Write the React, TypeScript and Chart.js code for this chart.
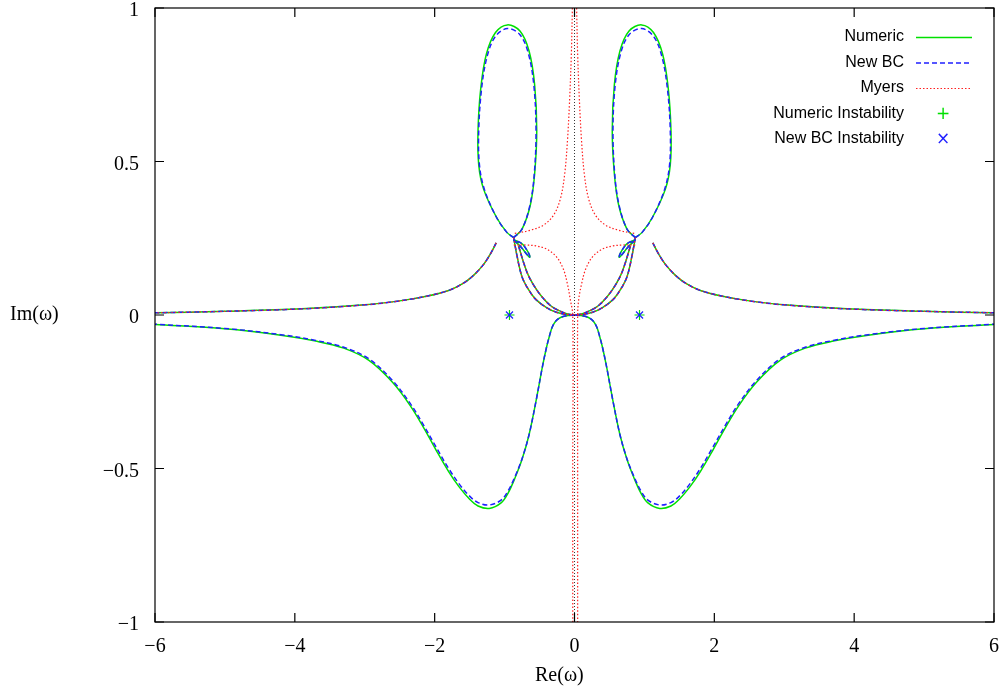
import { useEffect, useRef } from "react";
import { Chart, registerables, type ChartConfiguration } from "chart.js";

Chart.register(...registerables);

type P = [number, number];

const X_TICKS = [-6, -4, -2, 0, 2, 4, 6];
const Y_TICKS = [-1, -0.5, 0, 0.5, 1];

// upper loops (Numeric / New BC)
const LOOP_R_NUM: P[] = [[0.87, 0.252], [0.75, 0.28], [0.63, 0.36], [0.57, 0.46], [0.54, 0.6], [0.57, 0.75], [0.65, 0.86], [0.78, 0.925], [0.96, 0.945], [1.13, 0.92], [1.26, 0.85], [1.34, 0.74], [1.38, 0.6], [1.37, 0.49], [1.3, 0.41], [1.12, 0.32], [0.97, 0.27], [0.87, 0.252]];
const LOOP_R_BC: P[] = [[0.87, 0.252], [0.75, 0.28], [0.635, 0.36], [0.575, 0.46], [0.55, 0.6], [0.58, 0.745], [0.66, 0.852], [0.78, 0.913], [0.96, 0.933], [1.13, 0.908], [1.25, 0.842], [1.33, 0.735], [1.37, 0.6], [1.36, 0.49], [1.29, 0.41], [1.12, 0.32], [0.97, 0.27], [0.87, 0.252]];
const LOOP_L_NUM: P[] = [[-0.87, 0.252], [-0.75, 0.28], [-0.63, 0.36], [-0.57, 0.46], [-0.54, 0.6], [-0.57, 0.75], [-0.65, 0.86], [-0.78, 0.925], [-0.96, 0.945], [-1.13, 0.92], [-1.26, 0.85], [-1.34, 0.74], [-1.38, 0.6], [-1.37, 0.49], [-1.3, 0.41], [-1.12, 0.32], [-0.97, 0.27], [-0.87, 0.252]];
const LOOP_L_BC: P[] = [[-0.87, 0.252], [-0.75, 0.28], [-0.635, 0.36], [-0.575, 0.46], [-0.55, 0.6], [-0.58, 0.745], [-0.66, 0.852], [-0.78, 0.913], [-0.96, 0.933], [-1.13, 0.908], [-1.25, 0.842], [-1.33, 0.735], [-1.37, 0.6], [-1.36, 0.49], [-1.29, 0.41], [-1.12, 0.32], [-0.97, 0.27], [-0.87, 0.252]];

// small loops near the nodes
const SMALL_R: P[] = [[0.87, 0.245], [0.76, 0.22], [0.68, 0.197], [0.64, 0.188], [0.66, 0.203], [0.75, 0.232], [0.87, 0.245]];
const SMALL_L: P[] = [[-0.87, 0.245], [-0.76, 0.22], [-0.68, 0.197], [-0.64, 0.188], [-0.66, 0.203], [-0.75, 0.232], [-0.87, 0.245]];

// U shaped strands down to the origin
const U_OUT_R: P[] = [[0.87, 0.252], [0.82, 0.19], [0.75, 0.124], [0.65, 0.08], [0.55, 0.05], [0.4, 0.024], [0.26, 0.009], [0.1, 0.001], [0, 0]];
const U_IN_R: P[] = [[0.8, 0.225], [0.72, 0.165], [0.65, 0.124], [0.55, 0.085], [0.46, 0.058], [0.34, 0.03], [0.22, 0.014], [0.1, 0.003], [0, 0]];
const U_OUT_L: P[] = [[-0.87, 0.252], [-0.82, 0.19], [-0.75, 0.124], [-0.65, 0.08], [-0.55, 0.05], [-0.4, 0.024], [-0.26, 0.009], [-0.1, 0.001], [0, 0]];
const U_IN_L: P[] = [[-0.8, 0.225], [-0.72, 0.165], [-0.65, 0.124], [-0.55, 0.085], [-0.46, 0.058], [-0.34, 0.03], [-0.22, 0.014], [-0.1, 0.003], [0, 0]];

// side branches
const SIDE_R: P[] = [[1.12, 0.235], [1.2, 0.2], [1.3, 0.165], [1.44, 0.13], [1.6, 0.102], [1.8, 0.08], [2.1, 0.062], [2.5, 0.046], [3, 0.033], [3.9, 0.02], [5, 0.012], [6, 0.007]];
const SIDE_L: P[] = [[-1.12, 0.235], [-1.2, 0.2], [-1.3, 0.165], [-1.44, 0.13], [-1.6, 0.102], [-1.8, 0.08], [-2.1, 0.062], [-2.5, 0.046], [-3, 0.033], [-3.9, 0.02], [-5, 0.012], [-6, 0.007]];

// lower branches
const LOW_R_NUM: P[] = [[0, 0], [0.1, -0.002], [0.2, -0.008], [0.27, -0.02], [0.32, -0.04], [0.36, -0.07], [0.4, -0.105], [0.46, -0.17], [0.55, -0.28], [0.65, -0.39], [0.75, -0.47], [0.85, -0.53], [0.95, -0.58], [1.05, -0.612], [1.22, -0.63], [1.38, -0.622], [1.5, -0.6], [1.65, -0.56], [1.8, -0.51], [1.98, -0.44], [2.15, -0.37], [2.35, -0.295], [2.6, -0.22], [2.94, -0.148], [3.3, -0.108], [3.7, -0.085], [4.2, -0.066], [5, -0.045], [6, -0.031]];
const LOW_R_BC: P[] = [[0, 0], [0.1, -0.002], [0.2, -0.008], [0.27, -0.02], [0.32, -0.04], [0.36, -0.07], [0.4, -0.105], [0.46, -0.17], [0.55, -0.28], [0.65, -0.39], [0.75, -0.468], [0.85, -0.526], [0.95, -0.573], [1.05, -0.603], [1.22, -0.619], [1.38, -0.611], [1.5, -0.59], [1.65, -0.55], [1.8, -0.5], [1.98, -0.43], [2.15, -0.362], [2.35, -0.288], [2.6, -0.214], [2.94, -0.143], [3.3, -0.105], [3.7, -0.083], [4.2, -0.064], [5, -0.044], [6, -0.03]];
const LOW_L_NUM: P[] = [[0, 0], [-0.1, -0.002], [-0.2, -0.008], [-0.27, -0.02], [-0.32, -0.04], [-0.36, -0.07], [-0.4, -0.105], [-0.46, -0.17], [-0.55, -0.28], [-0.65, -0.39], [-0.75, -0.47], [-0.85, -0.53], [-0.95, -0.58], [-1.05, -0.612], [-1.22, -0.63], [-1.38, -0.622], [-1.5, -0.6], [-1.65, -0.56], [-1.8, -0.51], [-1.98, -0.44], [-2.15, -0.37], [-2.35, -0.295], [-2.6, -0.22], [-2.94, -0.148], [-3.3, -0.108], [-3.7, -0.085], [-4.2, -0.066], [-5, -0.045], [-6, -0.031]];
const LOW_L_BC: P[] = [[0, 0], [-0.1, -0.002], [-0.2, -0.008], [-0.27, -0.02], [-0.32, -0.04], [-0.36, -0.07], [-0.4, -0.105], [-0.46, -0.17], [-0.55, -0.28], [-0.65, -0.39], [-0.75, -0.468], [-0.85, -0.526], [-0.95, -0.573], [-1.05, -0.603], [-1.22, -0.619], [-1.38, -0.611], [-1.5, -0.59], [-1.65, -0.55], [-1.8, -0.5], [-1.98, -0.43], [-2.15, -0.362], [-2.35, -0.288], [-2.6, -0.214], [-2.94, -0.143], [-3.3, -0.105], [-3.7, -0.083], [-4.2, -0.064], [-5, -0.044], [-6, -0.03]];

// Myers-only arms
const MYERS_UP_R: P[] = [[0.03, 1], [0.045, 0.85], [0.07, 0.7], [0.1, 0.57], [0.14, 0.46], [0.2, 0.38], [0.3, 0.325], [0.45, 0.292], [0.65, 0.275], [0.87, 0.265]];
const MYERS_LO_R: P[] = [[0.87, 0.228], [0.7, 0.228], [0.55, 0.225], [0.4, 0.215], [0.26, 0.19], [0.16, 0.15], [0.1, 0.1], [0.06, 0.05], [0.045, 0], [0.045, -0.5], [0.045, -1]];
const MYERS_UP_L: P[] = [[-0.03, 1], [-0.045, 0.85], [-0.07, 0.7], [-0.1, 0.57], [-0.14, 0.46], [-0.2, 0.38], [-0.3, 0.325], [-0.45, 0.292], [-0.65, 0.275], [-0.87, 0.265]];
const MYERS_LO_L: P[] = [[-0.87, 0.228], [-0.7, 0.228], [-0.55, 0.225], [-0.4, 0.215], [-0.26, 0.19], [-0.16, 0.15], [-0.1, 0.1], [-0.06, 0.05], [-0.025, 0], [-0.025, -0.5], [-0.025, -1]];

const NUM_INSTAB: P[] = [[-0.93, 0], [0.93, 0]];
const BC_INSTAB: P[] = [[-0.93, 0], [0.93, 0]];
const ZERO_AXIS: P[] = [[0, -1], [0, 1]];

const GREEN = "#00e000";
const BLUE = "#1f1fff";
const RED = "#ff2020";
const DASH = [5, 3];
const DOT = [1.5, 2];
const SERIF = "'Liberation Serif'";

const pts = (a: P[]) => a.map(([x, y]) => ({ x, y }));

function line(data: P[], color: string, dash: number[], width = 1.5) {
  return { data: pts(data), showLine: true, borderColor: color, borderWidth: width, borderDash: dash, pointRadius: 0, tension: 0.35, fill: false, clip: false };
}

const fmt = (v: number) => String(v).replace("-", "\u2212");

// gnuplot-style frame: border and inward ticks on all sides
const frame = {
  id: "frame",
  afterDraw(chart: Chart) {
    const { ctx, chartArea: a, scales } = chart;
    ctx.save();
    ctx.strokeStyle = "#000";
    ctx.lineWidth = 1.2;
    ctx.strokeRect(a.left, a.top, a.right - a.left, a.bottom - a.top);
    ctx.beginPath();
    for (const v of X_TICKS) {
      const px = scales.x.getPixelForValue(v);
      ctx.moveTo(px, a.bottom); ctx.lineTo(px, a.bottom - 9);
      ctx.moveTo(px, a.top); ctx.lineTo(px, a.top + 9);
    }
    for (const v of Y_TICKS) {
      const py = scales.y.getPixelForValue(v);
      ctx.moveTo(a.left, py); ctx.lineTo(a.left + 9, py);
      ctx.moveTo(a.right, py); ctx.lineTo(a.right - 9, py);
    }
    ctx.stroke();
    ctx.restore();
  },
};

// plot box in page pixels (matches layout padding below)
const LEFT = 155, RIGHT = 994, TOP = 8, BOTTOM = 622;
const xPx = (v: number) => LEFT + ((v + 6) / 12) * (RIGHT - LEFT);
const yPx = (v: number) => BOTTOM - ((v + 1) / 2) * (BOTTOM - TOP);

const LEGEND = [
  { label: "Numeric", kind: "solid", color: GREEN },
  { label: "New BC", kind: "dashed", color: BLUE },
  { label: "Myers", kind: "dotted", color: RED },
  { label: "Numeric Instability", kind: "+", color: GREEN },
  { label: "New BC Instability", kind: "\u00d7", color: BLUE },
];

export default function App() {
  const ref = useRef<HTMLCanvasElement>(null);

  useEffect(() => {
    if (!ref.current) return;
    // first dataset is drawn on top in Chart.js, so list them top-most first
    const datasets = [
      { data: pts(BC_INSTAB), pointStyle: "crossRot", pointRadius: 5, borderColor: BLUE, borderWidth: 1.2, backgroundColor: BLUE, clip: false },
      { data: pts(NUM_INSTAB), pointStyle: "cross", pointRadius: 5, borderColor: GREEN, borderWidth: 1.2, backgroundColor: GREEN, clip: false },
      { ...line(ZERO_AXIS, "#000", [1, 2], 0.8), tension: 0 },
      line(U_OUT_R, RED, DOT, 1.2), line(U_IN_R, RED, DOT, 1.2), line(U_OUT_L, RED, DOT, 1.2), line(U_IN_L, RED, DOT, 1.2),
      line(SIDE_R, RED, DOT, 1.2), line(SIDE_L, RED, DOT, 1.2),
      line(MYERS_UP_R, RED, DOT, 1.2), line(MYERS_LO_R, RED, DOT, 1.2),
      line(MYERS_UP_L, RED, DOT, 1.2), line(MYERS_LO_L, RED, DOT, 1.2),
      line(LOOP_R_BC, BLUE, DASH), line(LOOP_L_BC, BLUE, DASH),
      line(SMALL_R, BLUE, DASH), line(SMALL_L, BLUE, DASH),
      line(U_OUT_R, BLUE, DASH), line(U_IN_R, BLUE, DASH), line(U_OUT_L, BLUE, DASH), line(U_IN_L, BLUE, DASH),
      line(SIDE_R, BLUE, DASH), line(SIDE_L, BLUE, DASH),
      line(LOW_R_BC, BLUE, DASH), line(LOW_L_BC, BLUE, DASH),
      line(LOOP_R_NUM, GREEN, []), line(LOOP_L_NUM, GREEN, []),
      line(SMALL_R, GREEN, []), line(SMALL_L, GREEN, []),
      line(U_OUT_R, GREEN, []), line(U_IN_R, GREEN, []), line(U_OUT_L, GREEN, []), line(U_IN_L, GREEN, []),
      line(SIDE_R, GREEN, []), line(SIDE_L, GREEN, []),
      line(LOW_R_NUM, GREEN, []), line(LOW_L_NUM, GREEN, []),
    ];
    const config: ChartConfiguration<"scatter"> = {
      type: "scatter",
      data: { datasets: datasets as any },
      options: {
        animation: false,
        responsive: false,
        devicePixelRatio: 1,
        layout: { padding: { top: TOP, right: 1002 - RIGHT, left: LEFT, bottom: 694 - BOTTOM } },
        plugins: { legend: { display: false }, tooltip: { enabled: false } },
        scales: {
          x: { type: "linear", min: -6, max: 6, display: false },
          y: { type: "linear", min: -1, max: 1, display: false },
        },
      },
      plugins: [frame],
    };
    const chart = new Chart(ref.current, config);
    return () => chart.destroy();
  }, []);

  const tick: React.CSSProperties = { position: "absolute", fontFamily: SERIF, fontSize: 20, lineHeight: "20px", whiteSpace: "nowrap" };

  return (
    <div style={{ position: "fixed", left: 0, top: 0, width: 1002, height: 694, background: "#fff" }}>
      <canvas ref={ref} width={1002} height={694} style={{ position: "absolute", left: 0, top: 0, width: 1002, height: 694 }} />
      {X_TICKS.map((v) => (
        <div key={"x" + v} style={{ ...tick, left: xPx(v) - 30, width: 60, textAlign: "center", top: BOTTOM + 13 }}>{fmt(v)}</div>
      ))}
      {Y_TICKS.map((v) => (
        <div key={"y" + v} style={{ ...tick, right: 1002 - LEFT + 16, top: yPx(v) - 9 }}>{fmt(v)}</div>
      ))}
      <div style={{ ...tick, left: 10, top: 303 }}>Im(ω)</div>
      <div style={{ ...tick, left: 535, top: 664 }}>Re(ω)</div>
      {LEGEND.map((l, i) => (
        <div key={l.label} style={{ position: "absolute", right: 1002 - 904, top: 27 + i * 25.5, fontFamily: "Liberation Sans", fontSize: 16, whiteSpace: "nowrap" }}>{l.label}</div>
      ))}
      <svg width={1002} height={694} style={{ position: "absolute", left: 0, top: 0 }}>
        {LEGEND.map((l, i) =>
          l.kind.length > 1 ? (
            <line key={l.label} x1={916} x2={972} y1={37.5 + i * 25.5} y2={37.5 + i * 25.5} stroke={l.color} strokeWidth={l.kind === "dotted" ? 1.2 : 1.5}
              strokeDasharray={l.kind === "dashed" ? "5 3" : l.kind === "dotted" ? "1.5 2" : undefined} />
          ) : null
        )}
      </svg>
      {LEGEND.map((l, i) =>
        l.kind.length === 1 ? (
          <div key={"s" + l.label} style={{ position: "absolute", left: 936, top: 26 + i * 25.5, color: l.color, fontFamily: "DejaVu Sans", fontSize: 17 }}>{l.kind}</div>
        ) : null
      )}
    </div>
  );
}
